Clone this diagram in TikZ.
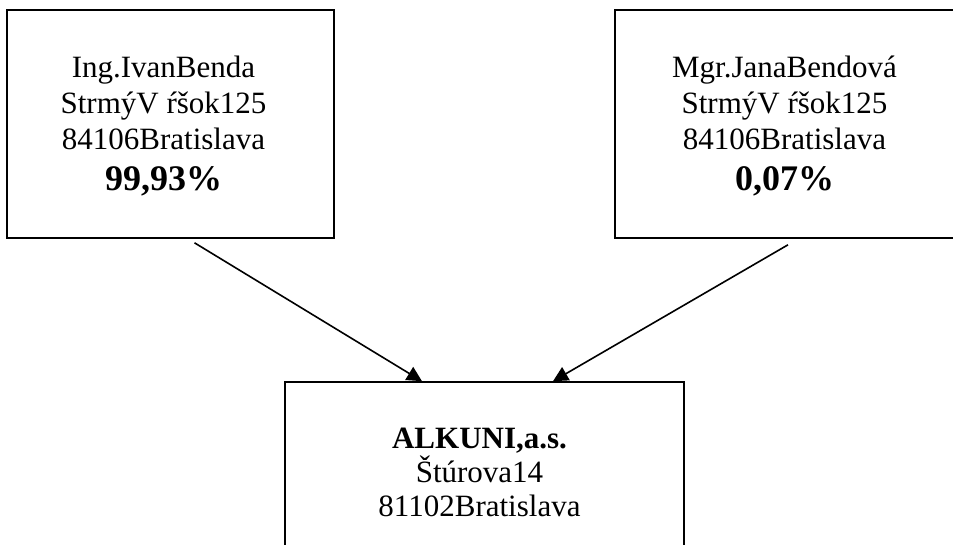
\documentclass[tikz,border=0pt]{standalone}
\usepackage{fontspec}
\setmainfont{Liberation Serif}
\usepackage{tikz}
\usetikzlibrary{arrows.meta}

\tikzset{
  frame/.style={draw=black, line width=1.6pt, inner sep=0pt},
  addr/.style={align=center, inner sep=0pt, font=\fontsize{31}{36}\selectfont},
  share/.style={black, line width=1.6pt, -{Triangle[length=15pt,width=15pt]}}
}

\begin{document}
\begin{tikzpicture}[x=1pt,y=1pt]
            \path[use as bounding box, clip] (0,0) rectangle (953,-544);

            \node[frame, minimum width=327pt, minimum height=228pt] (ivan) at (170.5,-124) {};
            \node[frame, minimum width=341pt, minimum height=228pt] (jana) at (785.5,-124) {};
            \node[frame, minimum width=399pt, minimum height=180pt] (alkuni) at (484.5,-472) {};

            \node[addr] (ivantext) at ([xshift=-7pt,yshift=-2pt]ivan.center)
              {Ing.IvanBenda\\ StrmýV ŕšok125\\ 84106Bratislava\\[5pt]
               {\fontsize{36}{40}\selectfont\bfseries 99,93\%}};
            \node[addr] (janatext) at ([xshift=-1pt,yshift=-2pt]jana.center)
              {Mgr.JanaBendová\\ StrmýV ŕšok125\\ 84106Bratislava\\[5pt]
               {\fontsize{36}{40}\selectfont\bfseries 0,07\%}};
            \node[addr, font=\fontsize{31}{34}\selectfont] (alkunitext) at ([xshift=-5pt]alkuni.center)
              {{\bfseries ALKUNI,a.s.}\\ Štúrova14\\ 81102Bratislava};

            \coordinate (ivanout) at ([xshift=24pt,yshift=-4pt]ivan.south);
            \coordinate (janaout) at ([xshift=2.5pt,yshift=-6pt]jana.south);
            \coordinate (ivanin) at ([xshift=-62.5pt]alkuni.north);
            \coordinate (janain) at ([xshift=68.5pt]alkuni.north);

            \draw[share] (ivanout) -- (ivanin);
            \draw[share] (janaout) -- (janain);
        \end{tikzpicture}
\end{document}
